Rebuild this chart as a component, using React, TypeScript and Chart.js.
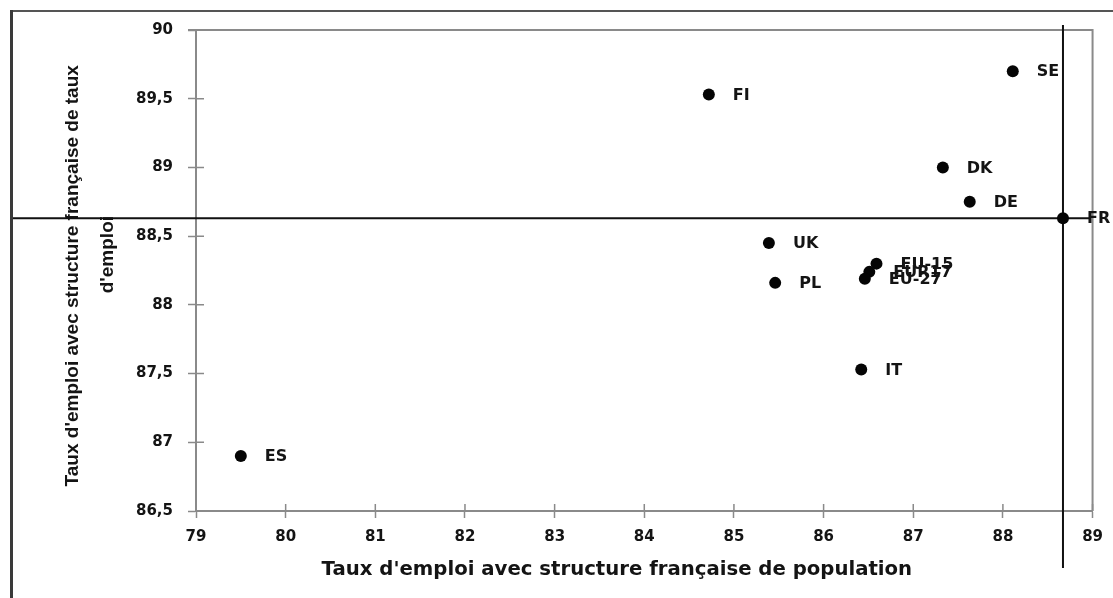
import React, { useEffect, useRef } from "react";
import { Chart, registerables } from "chart.js";

Chart.register(...registerables);

// ---- Data ----
const countries = ["ES", "FI", "SE", "DK", "DE", "FR", "UK", "PL", "EU-15", "EUR17", "EU-27", "IT"];
const rateWithFrPopStructure = [79.5, 84.72, 88.11, 87.33, 87.63, 88.67, 85.39, 85.46, 86.59, 86.51, 86.46, 86.42];
const rateWithFrRateStructure = [86.9, 89.53, 89.7, 89.0, 88.75, 88.63, 88.45, 88.16, 88.3, 88.24, 88.19, 87.53];
const referenceCountry = "FR";

const xMin = 79;
const xMax = 89;
const xStep = 1;
const yMin = 86.5;
const yMax = 90;
const yStep = 0.5;

const xTitle = "Taux d'emploi avec structure française de population";
const yTitleLines = ["Taux d'emploi avec structure française de taux", "d'emploi"];

const fmt = (v: number) => String(v).replace(".", ",");

const AXIS_COLOR = "#8a8a8a";
const TEXT_COLOR = "#141414";

const framePlugin = {
  id: "outerFrame",
  beforeDraw(chart: any) {
    const ctx = chart.ctx;
    ctx.save();
    ctx.fillStyle = "#ffffff";
    ctx.fillRect(0, 0, chart.width, chart.height);
    ctx.strokeStyle = "#1c1c1c";
    ctx.lineWidth = 1.5;
    ctx.beginPath();
    ctx.moveTo(10, 11);
    ctx.lineTo(chart.width, 11);
    ctx.stroke();
    ctx.strokeStyle = "#3a3a3a";
    ctx.lineWidth = 3;
    ctx.beginPath();
    ctx.moveTo(11.5, 10);
    ctx.lineTo(11.5, chart.height);
    ctx.stroke();
    ctx.restore();
  },
};

const boxPlugin = {
  id: "plotBox",
  beforeDatasetsDraw(chart: any) {
    const { ctx, chartArea } = chart;
    const xs = chart.scales.x;
    const ys = chart.scales.y;
    ctx.save();
    ctx.strokeStyle = AXIS_COLOR;
    ctx.lineWidth = 2;
    ctx.beginPath();
    ctx.moveTo(chartArea.left - 8, chartArea.top);
    ctx.lineTo(chartArea.right, chartArea.top);
    ctx.lineTo(chartArea.right, chartArea.bottom);
    ctx.stroke();
    // inner tick marks
    ctx.lineWidth = 1.5;
    ctx.beginPath();
    xs.ticks.forEach((_t: any, i: number) => {
      const px = xs.getPixelForTick(i);
      ctx.moveTo(px, chartArea.bottom);
      ctx.lineTo(px, chartArea.bottom - 7);
    });
    ys.ticks.forEach((_t: any, i: number) => {
      const py = ys.getPixelForTick(i);
      ctx.moveTo(chartArea.left, py);
      ctx.lineTo(chartArea.left + 8, py);
    });
    ctx.stroke();

    // reference cross lines through the reference country
    const idx = countries.indexOf(referenceCountry);
    const rx = xs.getPixelForValue(rateWithFrPopStructure[idx]);
    const ry = ys.getPixelForValue(rateWithFrRateStructure[idx]);
    ctx.strokeStyle = "#111111";
    ctx.lineWidth = 2;
    ctx.beginPath();
    ctx.moveTo(13, ry);
    ctx.lineTo(chartArea.right - 3, ry);
    ctx.moveTo(rx, 25);
    ctx.lineTo(rx, 568);
    ctx.stroke();
    ctx.restore();
  },
};

const labelPlugin = {
  id: "pointLabels",
  afterDatasetsDraw(chart: any) {
    const { ctx } = chart;
    const meta = chart.getDatasetMeta(0);
    ctx.save();
    ctx.font = "bold 16px 'DejaVu Sans'";
    ctx.fillStyle = TEXT_COLOR;
    ctx.textAlign = "left";
    ctx.textBaseline = "middle";
    meta.data.forEach((pt: any, i: number) => {
      ctx.fillText(countries[i], pt.x + 24, pt.y + 1);
    });
    ctx.restore();
  },
};

export default function App() {
  const ref = useRef<HTMLCanvasElement | null>(null);

  useEffect(() => {
    if (!ref.current) return;
    const chart = new Chart(ref.current, {
      type: "scatter",
      data: {
        datasets: [
          {
            data: countries.map((_c, i) => ({ x: rateWithFrPopStructure[i], y: rateWithFrRateStructure[i] })),
            pointRadius: 6,
            pointHoverRadius: 6,
            backgroundColor: "#050505",
            borderWidth: 0,
          },
        ],
      },
      plugins: [framePlugin, boxPlugin, labelPlugin],
      options: {
        responsive: false,
        animation: false,
        layout: { padding: { top: 30, right: 20, left: 0, bottom: 0 } },
        plugins: { legend: { display: false }, tooltip: { enabled: false } },
        scales: {
          x: {
            type: "linear",
            min: xMin,
            max: xMax,
            afterFit: (s: any) => {
              s.height = 87;
            },
            ticks: {
              stepSize: xStep,
              padding: 10,
              color: TEXT_COLOR,
              font: { family: "'DejaVu Sans'", size: 15, weight: "bold" },
              callback: (v: any) => fmt(Number(v)),
            },
            grid: {
              display: true,
              drawOnChartArea: false,
              drawTicks: true,
              tickLength: 7,
              tickColor: AXIS_COLOR,
              tickWidth: 1.5,
              color: AXIS_COLOR,
            },
            border: { display: true, color: AXIS_COLOR, width: 2 },
            title: {
              display: true,
              text: xTitle + "        ",
              color: TEXT_COLOR,
              font: { family: "'DejaVu Sans'", size: 19.7, weight: "bold", lineHeight: 1.2 },
              padding: { top: 0, bottom: 16 },
            },
          },
          y: {
            type: "linear",
            min: yMin,
            max: yMax,
            afterFit: (s: any) => {
              s.width = 196;
            },
            ticks: {
              stepSize: yStep,
              padding: 15,
              color: TEXT_COLOR,
              font: { family: "'DejaVu Sans'", size: 15, weight: "bold" },
              callback: (v: any) => fmt(Number(v)),
            },
            grid: {
              display: true,
              drawOnChartArea: false,
              drawTicks: true,
              tickLength: 8,
              tickColor: AXIS_COLOR,
              tickWidth: 1.5,
              color: AXIS_COLOR,
            },
            border: { display: true, color: AXIS_COLOR, width: 2 },
            title: {
              display: true,
              text: [yTitleLines[0] + "  ", "      " + yTitleLines[1]],
              color: TEXT_COLOR,
              font: { family: "'Liberation Sans'", size: 19, weight: "bold", lineHeight: 1.84 },
              padding: { top: 55.5, bottom: 0 },
            },
          },
        },
      } as any,
    });
    return () => chart.destroy();
  }, []);

  return (
    <div style={{ position: "absolute", left: 0, top: 0, width: 1113, height: 598 }}>
      <canvas ref={ref} width={1113} height={598} style={{ display: "block" }} />
    </div>
  );
}
